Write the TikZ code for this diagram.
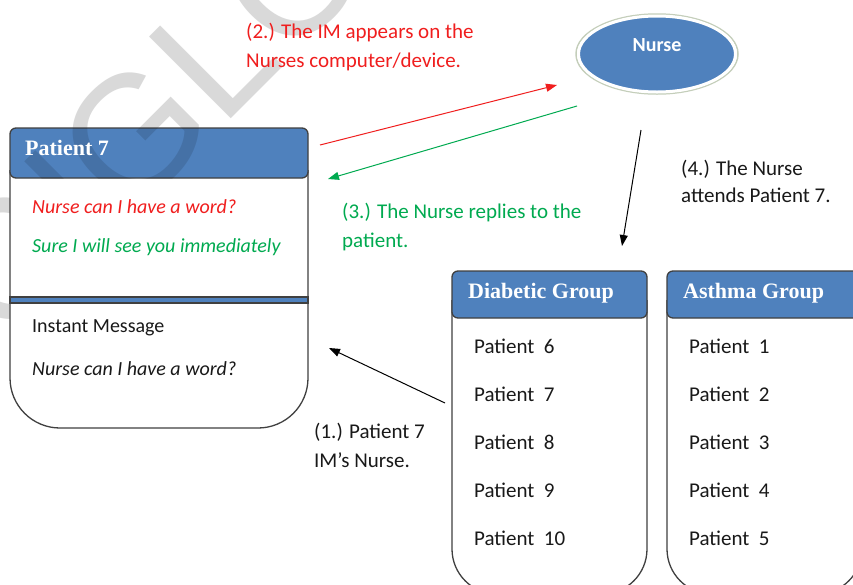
\documentclass[tikz,border=0pt]{standalone}
\usepackage{fontspec}
\setmainfont{Carlito}
\newfontfamily\hdfont{Liberation Serif}
\newfontfamily\wmfont{Liberation Sans}
\usetikzlibrary{arrows.meta,shapes.geometric}
\definecolor{hdblue}{RGB}{79,129,189}
\definecolor{bord}{RGB}{64,64,64}
\definecolor{msgred}{RGB}{240,30,30}
\definecolor{msggreen}{RGB}{0,170,80}
\definecolor{wmgray}{RGB}{217,217,217}
\definecolor{ringgray}{RGB}{196,206,186}
\definecolor{dtext}{RGB}{25,25,25}
\begin{document}
\begin{tikzpicture}[x=1pt,y=-1pt,
  wmark/.style={font=\wmfont\fontsize{168}{168}\selectfont, rotate=45, anchor=base west, inner sep=0, text=wmgray},
  hdr/.style={font=\hdfont\bfseries\fontsize{22}{26}\selectfont, text=white, anchor=base west, inner sep=0},
  boxtxt/.style={font=\fontsize{20}{24}\selectfont, anchor=base west, inner sep=0},
  listtxt/.style={font=\fontsize{21}{25}\selectfont, anchor=base west, inner sep=0, text=dtext},
  lbl/.style={font=\fontsize{21}{25}\selectfont, anchor=base west, inner sep=0},
  boxline/.style={draw=bord, line width=1.3pt},
  tip/.style={-{Triangle[length=11pt,width=8pt]}}
]
\useasboundingbox (0,0) rectangle (853,584);
\clip (0,0) rectangle (853,584);
\fill[white] (0,0) rectangle (853,584);

% watermark
\node[wmark] (wm) at (3,347) {GIGLO};

% Patient 7 box
\draw[boxline, fill=white, rounded corners=50pt] (10,170) -- (10,428) -- (308,428) -- (308,170);
\draw[boxline, fill=hdblue, rounded corners=6pt] (10,128) rectangle (308,178);
\begin{scope}
  \clip[rounded corners=6pt] (10,128) rectangle (308,178);
  \node[wmark, text=black, opacity=0.12] (wmb) at (3,347) {GIGLO};
\end{scope}
\draw[boxline, fill=hdblue] (10,297) rectangle (308,303);
\node[hdr] (p7h) at (25,155) {Patient 7};
\node[boxtxt, text=msgred] (m1) at (32,213) {\itshape Nurse can I have a word?};
\node[boxtxt, text=msggreen] (m2) at (32,252) {\itshape Sure I will see you immediately};
\node[boxtxt, text=dtext] (m3) at (32,332) {Instant Message};
\node[boxtxt, text=dtext] (m4) at (32,375) {\itshape Nurse can I have a word?};

% Diabetic group
\draw[boxline, fill=white, rounded corners=45pt] (452,300) -- (452,594) -- (647,594) -- (647,300);
\draw[boxline, fill=hdblue, rounded corners=6pt] (452,271) rectangle (647,318);
\node[hdr] (dh) at (468,298) {Diabetic Group};
\node[listtxt] (d6) at (474,353) {Patient~~6};
\node[listtxt] (d7) at (474,401) {Patient~~7};
\node[listtxt] (d8) at (474,449) {Patient~~8};
\node[listtxt] (d9) at (474,497) {Patient~~9};
\node[listtxt] (d10) at (474,545) {Patient~~10};

% Asthma group
\draw[boxline, fill=white, rounded corners=45pt] (667,300) -- (667,594) -- (862,594) -- (862,300);
\draw[boxline, fill=hdblue, rounded corners=6pt] (667,271) rectangle (862,318);
\node[hdr] (ah) at (683,298) {Asthma Group};
\node[listtxt] (a1) at (689,353) {Patient~~1};
\node[listtxt] (a2) at (689,401) {Patient~~2};
\node[listtxt] (a3) at (689,449) {Patient~~3};
\node[listtxt] (a4) at (689,497) {Patient~~4};
\node[listtxt] (a5) at (689,545) {Patient~~5};

% Nurse ellipse
\draw[ringgray, line width=1.5pt] (657,54) ellipse [x radius=81, y radius=40];
\node[ellipse, minimum width=157pt, minimum height=76pt, fill=hdblue, draw=white, line width=3pt, inner sep=0] (nurse) at (657,54) {};
\node[font=\bfseries\fontsize{20}{24}\selectfont, text=white, anchor=base, inner sep=0] (nt) at (657,51) {Nurse};

% labels
\node[lbl, text=msgred] (l2a) at (246,38) {(2.) The IM appears on the};
\node[lbl, text=msgred] (l2b) at (246,67) {Nurses computer/device.};
\node[lbl, text=msggreen] (l3a) at (342,218) {(3.) The Nurse replies to the};
\node[lbl, text=msggreen] (l3b) at (342,247) {patient.};
\node[lbl, text=dtext] (l4a) at (681,175) {(4.) The Nurse};
\node[lbl, text=dtext] (l4b) at (681,202) {attends Patient 7.};
\node[lbl, text=dtext] (l1a) at (314,438) {(1.) Patient 7};
\node[lbl, text=dtext] (l1b) at (314,467) {IM’s Nurse.};

% connectors
\coordinate (r1) at (320,145); \coordinate (r2) at (557,85);
\coordinate (g1) at (577,106); \coordinate (g2) at (328,179);
\coordinate (b1) at (445,403); \coordinate (b2) at (329,348);
\coordinate (k1) at (641,130); \coordinate (k2) at (622,246);
\draw[msgred, line width=1pt, tip] (r1) -- (r2);
\draw[msggreen, line width=1pt, tip] (g1) -- (g2);
\draw[black, line width=1pt, tip] (b1) -- (b2);
\draw[black, line width=1pt, tip] (k1) -- (k2);
\end{tikzpicture}
\end{document}
